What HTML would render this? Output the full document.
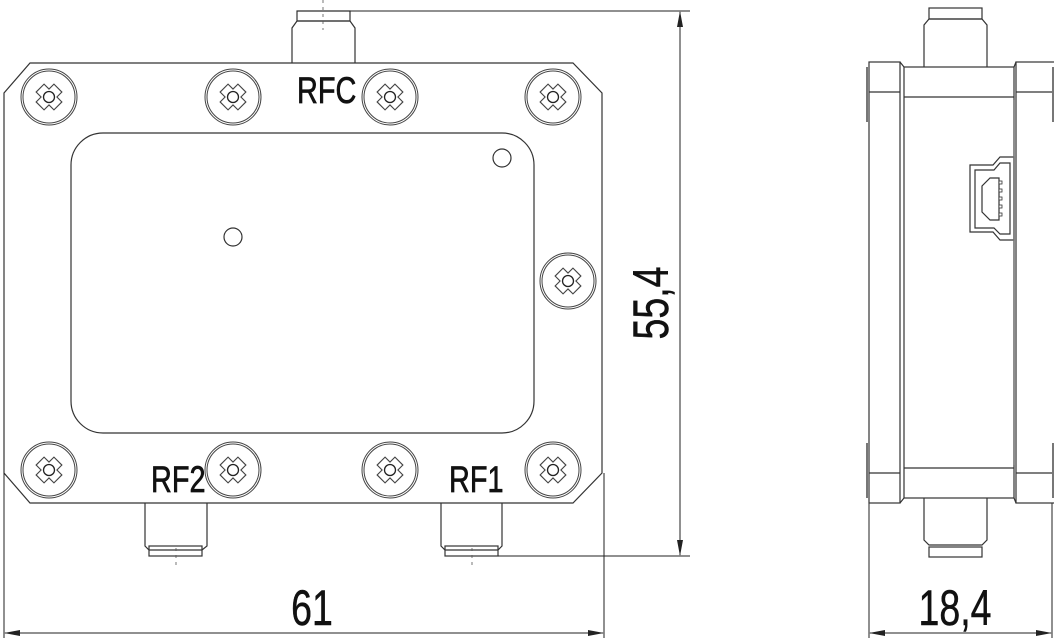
<!DOCTYPE html>
<html><head><meta charset="utf-8"><style>
html,body{margin:0;padding:0;background:#fff;}
svg{display:block}
text{font-family:"Liberation Sans",sans-serif;fill:#111}
</style></head><body>
<svg width="1054" height="642" viewBox="0 0 1054 642" xmlns="http://www.w3.org/2000/svg">
<defs>
<g id="scr">
<circle r="28" fill="none" stroke="#444" stroke-width="1"/>
<circle r="26" fill="none" stroke="#444" stroke-width="1"/>
<polygon points="-4,-9 4,-9 4,-4 9,-4 9,4 4,4 4,9 -4,9 -4,4 -9,4 -9,-4 -4,-4" transform="rotate(45) scale(1.4)" fill="none" stroke="#444" stroke-width="0.8"/>
<circle r="5.5" fill="#fff" stroke="#222" stroke-width="1.3"/>
</g>
<marker id="ar" markerWidth="16" markerHeight="8" refX="15" refY="4" orient="auto" markerUnits="userSpaceOnUse"><path d="M0,1 L16,4 L0,7 Z" fill="#222"/></marker>
</defs>
<g fill="none" stroke="#333" stroke-width="1.2">
<polygon points="30,63 573,63 602,93 602,473 573,503 30,503 4,473 4,93"/>
<rect x="71" y="133" width="463" height="300" rx="32"/>
<circle cx="502" cy="158" r="9"/>
<circle cx="233" cy="237" r="9"/>
<path d="M292,63 V28 L297,21 H350 L355,28 V63"/>
<rect x="297" y="11" width="53" height="10"/>
<path d="M145,503 V546 L149,550 H202 L207,546 V503"/>
<rect x="149" y="546" width="53" height="10"/>
<path d="M441,503 V546 L445,550 H498 L502,546 V503"/>
<rect x="445" y="546" width="53" height="10"/>
</g>
<g stroke="#555" stroke-width="0.8" stroke-dasharray="3,4">
<line x1="323" y1="0" x2="323" y2="30"/>
<line x1="176" y1="548" x2="176" y2="568"/>
<line x1="472" y1="548" x2="472" y2="568"/>
</g>
<use href="#scr" x="49" y="97"/><use href="#scr" x="233" y="97"/><use href="#scr" x="390" y="97"/><use href="#scr" x="553" y="97"/>
<use href="#scr" x="49" y="470"/><use href="#scr" x="233" y="470"/><use href="#scr" x="390" y="470"/><use href="#scr" x="553" y="470"/>
<use href="#scr" x="568" y="281"/>
<g stroke="#222" stroke-width="1" fill="none">
<line x1="297" y1="11" x2="690" y2="11"/>
<line x1="498" y1="556" x2="690" y2="556"/>
<line x1="680" y1="30" x2="680" y2="12" marker-end="url(#ar)"/>
<line x1="680" y1="30" x2="680" y2="555" marker-end="url(#ar)"/>
<line x1="4" y1="473" x2="4" y2="638"/>
<line x1="604" y1="473" x2="604" y2="638"/>
<line x1="300" y1="633" x2="5" y2="633" marker-end="url(#ar)"/>
<line x1="300" y1="633" x2="603" y2="633" marker-end="url(#ar)"/>
<line x1="869" y1="503" x2="869" y2="638"/>
<line x1="1052" y1="503" x2="1052" y2="638"/>
<line x1="960" y1="633" x2="870" y2="633" marker-end="url(#ar)"/>
<line x1="960" y1="633" x2="1051" y2="633" marker-end="url(#ar)"/>
</g>
<g font-size="37" stroke="#111" stroke-width="0.7">
<text transform="translate(297,103) scale(0.78,1)">RFC</text>
<text transform="translate(151,492) scale(0.78,1)">RF2</text>
<text transform="translate(449,492) scale(0.78,1)">RF1</text>
</g>
<g stroke="#111" stroke-width="0.5">
<text transform="translate(312,625) scale(0.75,1)" font-size="50" text-anchor="middle">61</text>
<text transform="translate(955,625) scale(0.75,1)" font-size="50" text-anchor="middle">18,4</text>
<text transform="translate(668,303) rotate(-90) scale(0.75,1)" font-size="50" text-anchor="middle">55,4</text>
</g>
<g fill="none" stroke="#333" stroke-width="1.2">
<rect x="869" y="62" width="31" height="441"/>
<line x1="869" y1="92" x2="900" y2="92"/><line x1="869" y1="473" x2="900" y2="473"/>
<rect x="1016" y="62" width="40" height="441"/>
<line x1="1016" y1="92" x2="1054" y2="92"/><line x1="1016" y1="473" x2="1054" y2="473"/>
<rect x="904" y="67" width="110" height="431"/>
<line x1="904" y1="97" x2="1014" y2="97"/><line x1="904" y1="468" x2="1014" y2="468"/>
<line x1="900" y1="62" x2="904" y2="67"/><line x1="1016" y1="62" x2="1014" y2="67"/>
<line x1="900" y1="503" x2="904" y2="498"/><line x1="1016" y1="503" x2="1014" y2="498"/>
<path d="M924,67 V25 L929,19 H982 L987,25 V67"/>
<rect x="929" y="8" width="53" height="11"/>
<path d="M924,498 V540 L929,545 H982 L987,540 V498"/>
<rect x="929" y="547" width="53" height="10"/>
<path d="M970,165 H993 L1000,157 H1014 V240 H1000 L993,232 H970 Z"/>
<path d="M975,170 H994 L1000,163 H1010 V234 H1000 L994,228 H975 Z"/>
<path d="M990,178 H999 V220 H990 L982,212 V186 Z"/>
</g>
<g fill="#fff" stroke="#333" stroke-width="0.8">
<rect x="999" y="181" width="3" height="3"/><rect x="999" y="189" width="3" height="3"/><rect x="999" y="197" width="3" height="3"/><rect x="999" y="205" width="3" height="3"/><rect x="999" y="213" width="3" height="3"/>
</g>
<g stroke="#777" stroke-width="2">
<line x1="867" y1="67" x2="867" y2="122"/><line x1="867" y1="443" x2="867" y2="498"/>
<line x1="1053" y1="67" x2="1053" y2="122"/><line x1="1053" y1="443" x2="1053" y2="498"/>
<line x1="1014" y1="100" x2="1014" y2="465" stroke-width="1.5"/>
</g>
</svg>
</body></html>
